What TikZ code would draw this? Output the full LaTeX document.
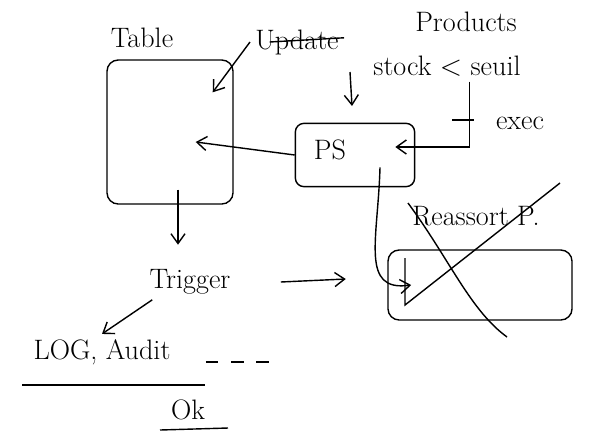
\documentclass[tikz,border=0pt]{standalone}
\usepackage{tikz}
\usetikzlibrary{arrows.meta}

\begin{document}
\begin{tikzpicture}[x=0.025cm, y=-0.025cm, line width=1pt,
		>={Straight Barb[length=7pt,width=10pt]},
		font=\fontsize{20}{23}\selectfont]
			\useasboundingbox (0,0) rectangle (590,436);
			
			\node (tablelbl) at (142,38) {Table};
			\node (upd) at (297,42) {Update};
			\draw ([xshift=14pt]upd.west) -- ([yshift=3pt]upd.east);
			\node (prod) at (466,22) {Products};
			\node (stock) at (447,66) {stock $<$ seuil};
			\node (exec) at (520,123) {exec};
			
			\node[draw, rounded corners=8pt, minimum width=3.15cm, minimum height=3.6cm] (table) at (170,132) {};
			\node[draw, rounded corners=6pt, minimum width=2.98cm, minimum height=1.58cm] (ps) at (355,155) {};
			\node (pslbl) at (330,150) {PS};
			
			\node (reas) at (476,216) {Reassort P.};
			\node[draw, rounded corners=8pt, minimum width=4.6cm, minimum height=1.75cm] (rbox) at (480,285) {};
			
			\node (trigger) at (190,282) {Trigger};
			\node (log) at (102,352) {LOG, Audit};
			\node (ok) at (188,410) {Ok};
			
			\draw[->] (upd.west) -- ([shift={(-21,33)}]table.north east);
			\coordinate (pa) at (350,72);
			\coordinate (pb) at (352,106);
			\draw[->] (pa) -- (pb);
			\draw[->] ([xshift=-40pt]stock.south east) |- ([shift={(-20,-8)}]ps.east);
			\draw (452,120) -- (474,120);
			\draw[->] (ps.west) -- ([shift={(-38,10)}]table.east);
			\draw[->] ([shift={(25,-20)}]ps.south) .. controls (378,240) and (360,292) .. ([xshift=17pt]rbox.west);
			
			\draw (405,258) -- (405,305) -- (560,183);
			\draw (408,203) .. controls (450,260) and (470,310) .. (507,337);
			
			\draw[->] ([shift={(8,-15)}]table.south) -- ++(0,55);
			\draw[->] ([xshift=32pt]trigger.east) -- ++(65,-3);
			\draw[->] ([shift={(8,0)}]trigger.south west) -- (log.north);
			\draw[dash pattern=on 9pt off 9pt] ([shift={(30,10)}]log.east) -- ++(65,0);
			\draw (22,385) -- (205,385);
			\draw (160,430) -- (228,428);
		\end{tikzpicture}
\end{document}
